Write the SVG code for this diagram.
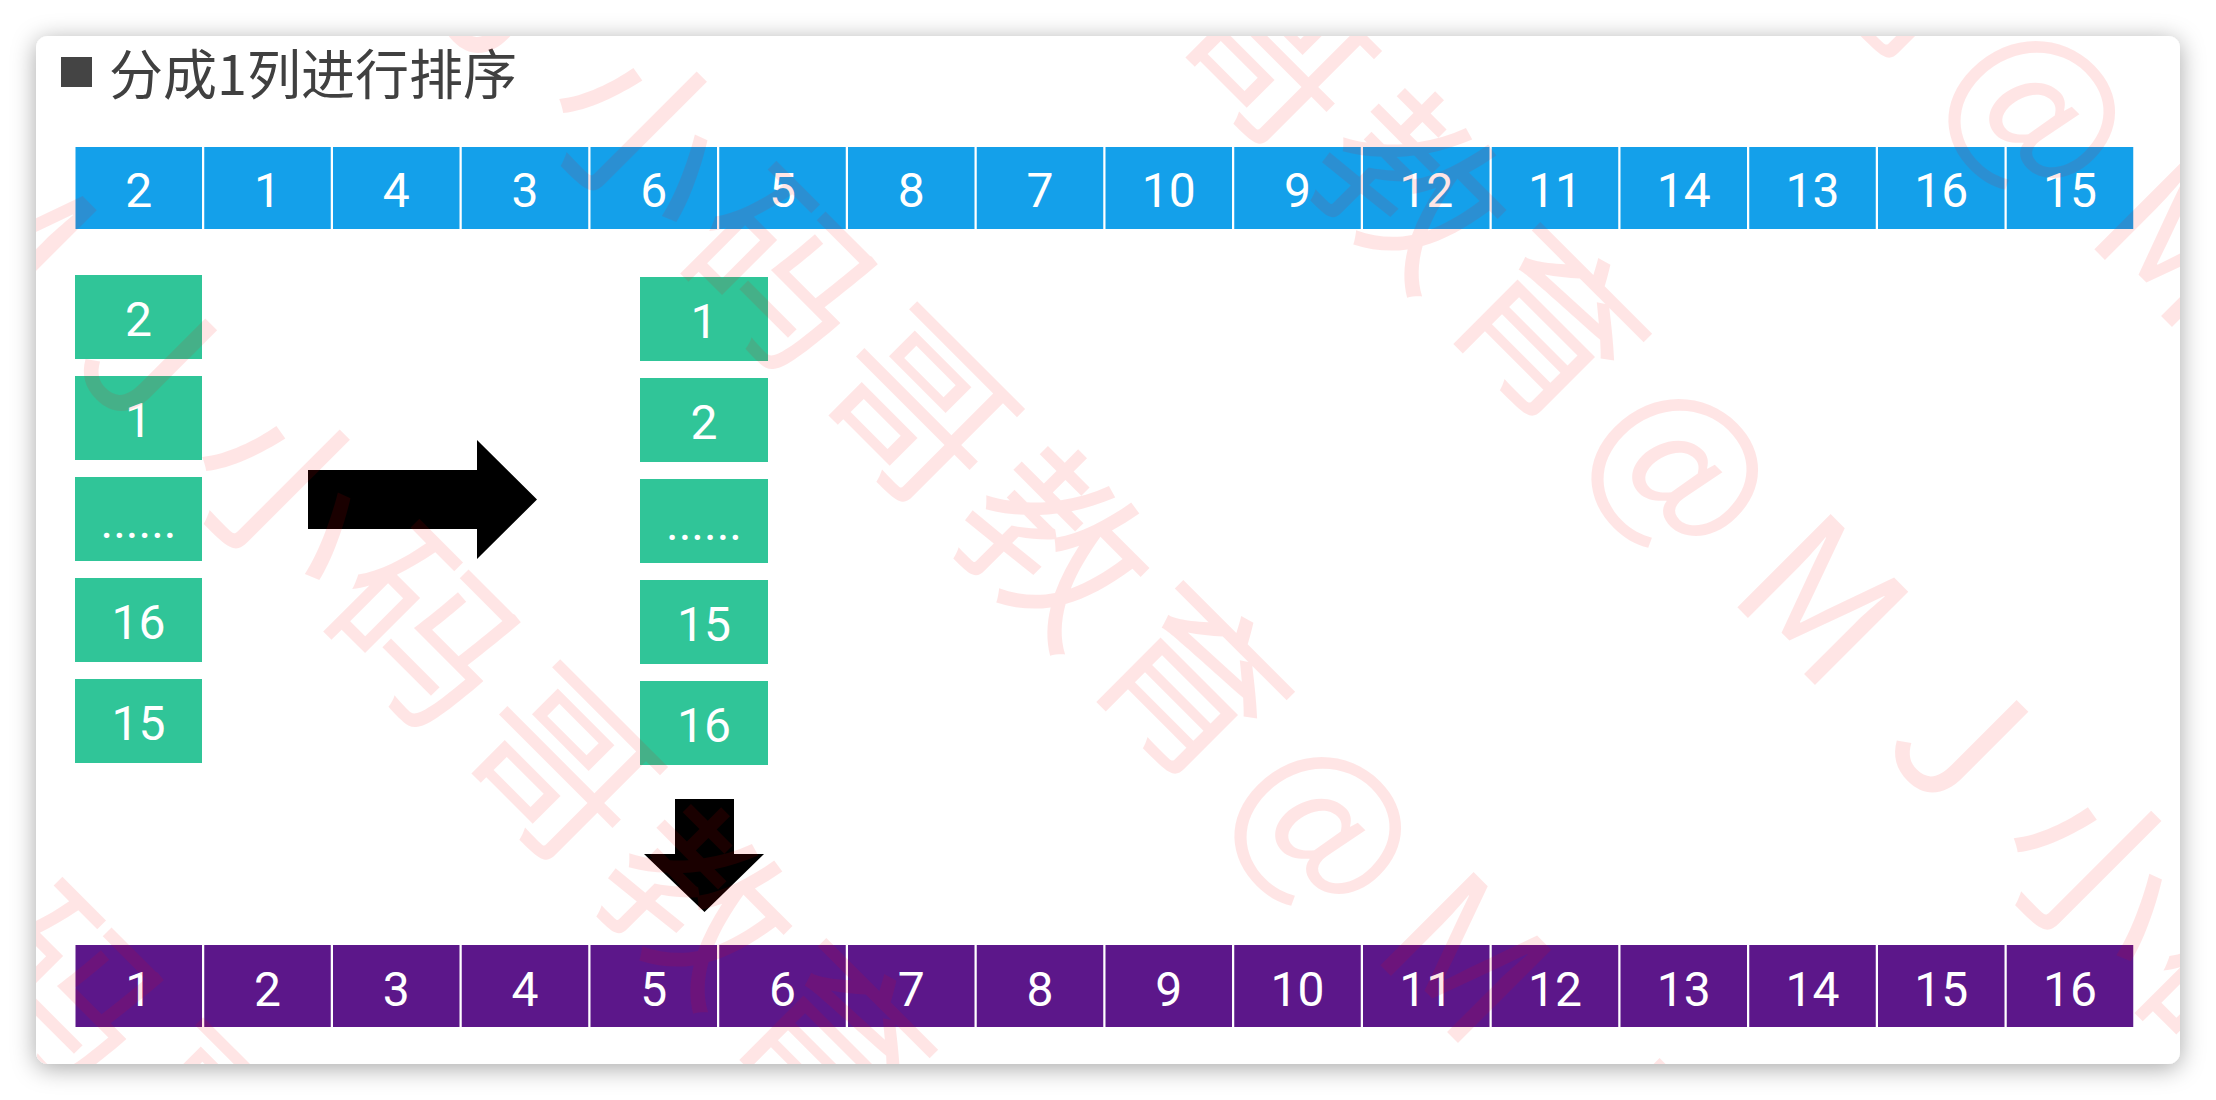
<svg xmlns="http://www.w3.org/2000/svg" width="2216" height="1100" viewBox="0 0 2216 1100">
<defs>
<style>
.b{fill:#14A0EA}
.g{fill:#30C598}
.p{fill:#5C178A}
.t{font-family:Roboto,"Liberation Sans",sans-serif;font-size:48px;fill:#FFFFFF;text-anchor:middle}
.wm{font-family:"Noto Sans CJK SC","Noto Sans",sans-serif;font-size:180px;fill:#FF0000;fill-opacity:0.1;text-anchor:middle}
</style>
<filter id="sh" x="-5%" y="-10%" width="110%" height="120%">
<feDropShadow dx="0" dy="4" stdDeviation="12" flood-color="#000" flood-opacity="0.35"/>
</filter>
<clipPath id="cardclip"><rect x="36" y="36" width="2144" height="1028" rx="12"/></clipPath>
</defs>
<rect width="2216" height="1100" fill="#FFFFFF"/>
<rect id="card" x="36" y="36" width="2144" height="1028" rx="12" fill="#FFFFFF" filter="url(#sh)"/>
<g id="title">
<rect x="61" y="57" width="31" height="30" fill="#444444"/>
<text x="109" y="95" font-family="'Noto Sans CJK SC','Noto Sans',sans-serif" font-size="54" fill="#404040">分成1列进行排序</text>
</g>
<g id="input-row">
<g id="in0"><rect class="b" x="75.5" y="147" width="126.5" height="82"/><text class="t" x="138.75" y="207">2</text></g>
<g id="in1"><rect class="b" x="204.25" y="147" width="126.5" height="82"/><text class="t" x="267.5" y="207">1</text></g>
<g id="in2"><rect class="b" x="333" y="147" width="126.5" height="82"/><text class="t" x="396.25" y="207">4</text></g>
<g id="in3"><rect class="b" x="461.75" y="147" width="126.5" height="82"/><text class="t" x="525" y="207">3</text></g>
<g id="in4"><rect class="b" x="590.5" y="147" width="126.5" height="82"/><text class="t" x="653.75" y="207">6</text></g>
<g id="in5"><rect class="b" x="719.25" y="147" width="126.5" height="82"/><text class="t" x="782.5" y="207">5</text></g>
<g id="in6"><rect class="b" x="848" y="147" width="126.5" height="82"/><text class="t" x="911.25" y="207">8</text></g>
<g id="in7"><rect class="b" x="976.75" y="147" width="126.5" height="82"/><text class="t" x="1040" y="207">7</text></g>
<g id="in8"><rect class="b" x="1105.5" y="147" width="126.5" height="82"/><text class="t" x="1168.75" y="207">10</text></g>
<g id="in9"><rect class="b" x="1234.25" y="147" width="126.5" height="82"/><text class="t" x="1297.5" y="207">9</text></g>
<g id="in10"><rect class="b" x="1363" y="147" width="126.5" height="82"/><text class="t" x="1426.25" y="207">12</text></g>
<g id="in11"><rect class="b" x="1491.75" y="147" width="126.5" height="82"/><text class="t" x="1555" y="207">11</text></g>
<g id="in12"><rect class="b" x="1620.5" y="147" width="126.5" height="82"/><text class="t" x="1683.75" y="207">14</text></g>
<g id="in13"><rect class="b" x="1749.25" y="147" width="126.5" height="82"/><text class="t" x="1812.5" y="207">13</text></g>
<g id="in14"><rect class="b" x="1878" y="147" width="126.5" height="82"/><text class="t" x="1941.25" y="207">16</text></g>
<g id="in15"><rect class="b" x="2006.75" y="147" width="126.5" height="82"/><text class="t" x="2070" y="207">15</text></g>
</g>
<g id="column-before">
<g id="cb0"><rect class="g" x="75" y="275" width="127" height="84"/><text class="t" x="138.5" y="336">2</text></g>
<g id="cb1"><rect class="g" x="75" y="376" width="127" height="84"/><text class="t" x="138.5" y="437">1</text></g>
<g id="cb2"><rect class="g" x="75" y="477" width="127" height="84"/><text class="t" x="138.5" y="538">......</text></g>
<g id="cb3"><rect class="g" x="75" y="578" width="127" height="84"/><text class="t" x="138.5" y="639">16</text></g>
<g id="cb4"><rect class="g" x="75" y="679" width="127" height="84"/><text class="t" x="138.5" y="740">15</text></g>
</g>
<g id="column-after">
<g id="ca0"><rect class="g" x="640" y="277" width="128" height="84"/><text class="t" x="704" y="338">1</text></g>
<g id="ca1"><rect class="g" x="640" y="378" width="128" height="84"/><text class="t" x="704" y="439">2</text></g>
<g id="ca2"><rect class="g" x="640" y="479" width="128" height="84"/><text class="t" x="704" y="540">......</text></g>
<g id="ca3"><rect class="g" x="640" y="580" width="128" height="84"/><text class="t" x="704" y="641">15</text></g>
<g id="ca4"><rect class="g" x="640" y="681" width="128" height="84"/><text class="t" x="704" y="742">16</text></g>
</g>
<g id="output-row">
<g id="out0"><rect class="p" x="75.5" y="945" width="126.5" height="82"/><text class="t" x="138.75" y="1006">1</text></g>
<g id="out1"><rect class="p" x="204.25" y="945" width="126.5" height="82"/><text class="t" x="267.5" y="1006">2</text></g>
<g id="out2"><rect class="p" x="333" y="945" width="126.5" height="82"/><text class="t" x="396.25" y="1006">3</text></g>
<g id="out3"><rect class="p" x="461.75" y="945" width="126.5" height="82"/><text class="t" x="525" y="1006">4</text></g>
<g id="out4"><rect class="p" x="590.5" y="945" width="126.5" height="82"/><text class="t" x="653.75" y="1006">5</text></g>
<g id="out5"><rect class="p" x="719.25" y="945" width="126.5" height="82"/><text class="t" x="782.5" y="1006">6</text></g>
<g id="out6"><rect class="p" x="848" y="945" width="126.5" height="82"/><text class="t" x="911.25" y="1006">7</text></g>
<g id="out7"><rect class="p" x="976.75" y="945" width="126.5" height="82"/><text class="t" x="1040" y="1006">8</text></g>
<g id="out8"><rect class="p" x="1105.5" y="945" width="126.5" height="82"/><text class="t" x="1168.75" y="1006">9</text></g>
<g id="out9"><rect class="p" x="1234.25" y="945" width="126.5" height="82"/><text class="t" x="1297.5" y="1006">10</text></g>
<g id="out10"><rect class="p" x="1363" y="945" width="126.5" height="82"/><text class="t" x="1426.25" y="1006">11</text></g>
<g id="out11"><rect class="p" x="1491.75" y="945" width="126.5" height="82"/><text class="t" x="1555" y="1006">12</text></g>
<g id="out12"><rect class="p" x="1620.5" y="945" width="126.5" height="82"/><text class="t" x="1683.75" y="1006">13</text></g>
<g id="out13"><rect class="p" x="1749.25" y="945" width="126.5" height="82"/><text class="t" x="1812.5" y="1006">14</text></g>
<g id="out14"><rect class="p" x="1878" y="945" width="126.5" height="82"/><text class="t" x="1941.25" y="1006">15</text></g>
<g id="out15"><rect class="p" x="2006.75" y="945" width="126.5" height="82"/><text class="t" x="2070" y="1006">16</text></g>
</g>
<g id="connectors" fill="#000000">
<polygon id="arrow-right" points="308,470 477,470 477,440 537,499.5 477,559 477,529 308,529"/>
<polygon id="arrow-down" points="675,799 734,799 734,854 764,854 704.5,912 644,854 675,854"/>
</g>
<g id="watermark" clip-path="url(#cardclip)">
<text class="wm" transform="translate(1328,821) rotate(45)" x="-1358 -1164 -970 -776 -582 -388 -194 0 194 388 582" y="65">MJ小码哥教育@MJ小</text>
<text class="wm" transform="translate(1685,463) rotate(45)" x="-970 -776 -582 -388 -194 0 194 388 582 776 970" y="65">小码哥教育@MJ小码哥</text>
<text class="wm" transform="translate(2042,105) rotate(45)" x="-776 -582 -388 -194 0 194 388" y="65">码哥教育@MJ</text>
<text class="wm" transform="translate(971,1179) rotate(45)" x="-1746 -1552 -1358 -1164 -970 -776 -582 -388 -194 0 194" y="65">育@MJ小码哥教育@M</text>
<text class="wm" transform="translate(614,1537) rotate(45)" x="-1552 -1358 -1164 -970 -776 -582 -388" y="65">@MJ小码哥教</text>
</g>
</svg>
